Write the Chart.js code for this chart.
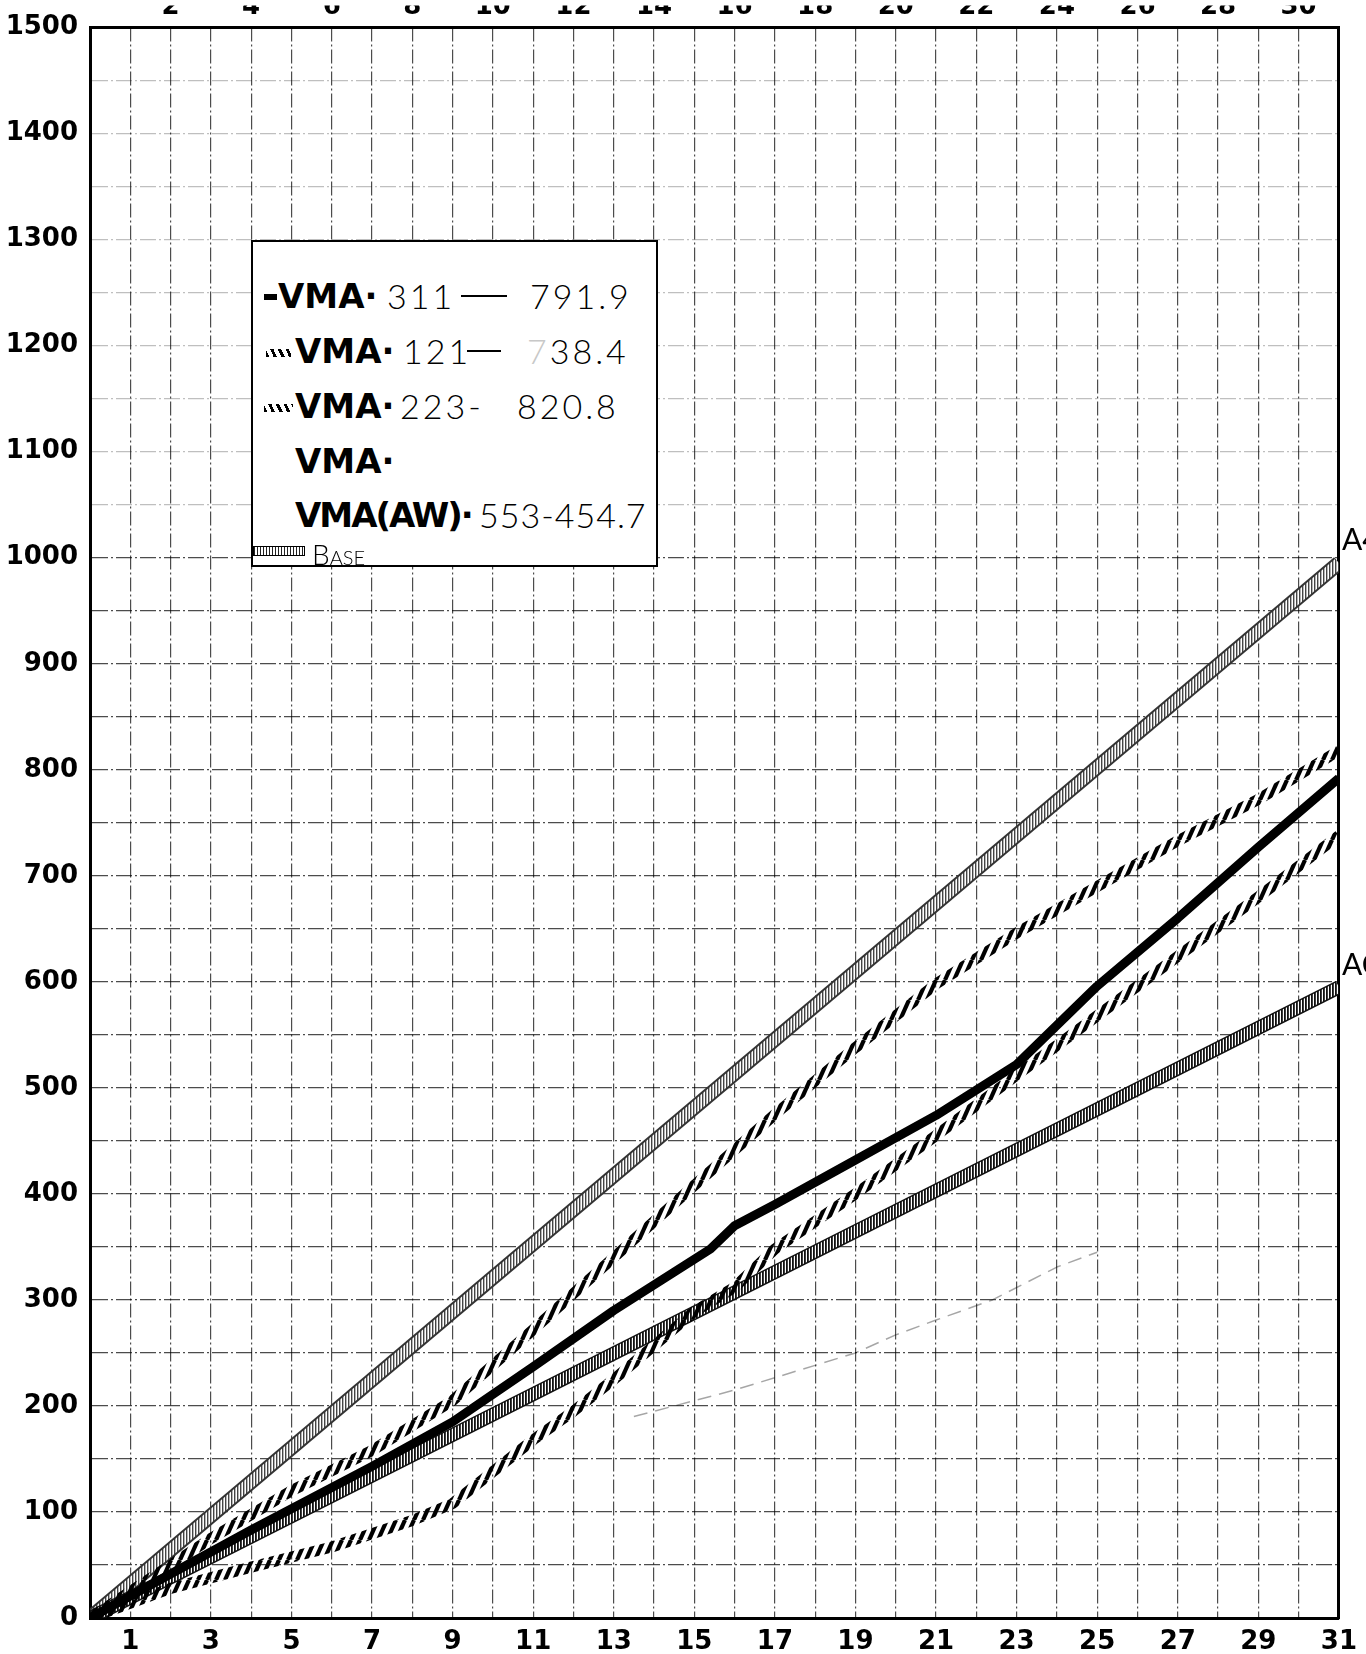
<!DOCTYPE html>
<html>
<head>
<meta charset="utf-8">
<title>VMA cumulative chart</title>
<script src="https://cdn.jsdelivr.net/npm/chart.js@4.4.1/dist/chart.umd.min.js"></script>
<style>
  html, body { margin: 0; padding: 0; background: #fff; }
  #wrap { position: relative; width: 1366px; height: 1654px; overflow: hidden; }
  #chart { position: absolute; left: 0; top: 0; }
  .key { position: absolute; left: 251px; top: 240px; width: 403px; height: 323px;
         border: 2px solid #000; background: #fff; }
  .row { position: absolute; left: 0; width: 100%; height: 40px; }
  .row span { position: absolute; top: 0; line-height: 40px; white-space: nowrap; color: #000; }
  .vma { font: bold 34px "DejaVu Sans", sans-serif; }
  .tight { letter-spacing: -2px; }
  .hand { font: 300 34px Lato, "DejaVu Sans", sans-serif; letter-spacing: 3px; }
  .faint { color: #c8c8c8 !important; }
  .dash { height: 2px !important; top: 19px !important; background: #000; }
  .bar { height: 6px !important; top: 18px !important; background: #000; }
  .rope { height: 8px !important; top: 18px !important;
          background: repeating-linear-gradient(65deg, #000 0 3px, transparent 3px 7px); }
  .base { height: 8px !important; top: 12px !important; border: 1px solid #000;
          background: repeating-linear-gradient(90deg, #222 0 1.5px, #fff 1.5px 3px); }
  .small { font: 300 28px Lato, "DejaVu Sans", sans-serif; font-variant: small-caps; }
</style>
</head>
<body>
<div id="wrap">
  <canvas id="chart" width="1366" height="1654"></canvas>
  <div class="key">
    <div class="row" style="top:34px">
      <span class="bar" style="left:11px;width:13px"></span>
      <span class="vma" style="left:25px">VMA·</span>
      <span class="hand" style="left:134px">311</span>
      <span class="dash" style="left:208px;width:46px"></span>
      <span class="hand" style="left:277px">791.9</span>
    </div>
    <div class="row" style="top:89px">
      <span class="rope" style="left:13px;width:25px"></span>
      <span class="vma" style="left:42px">VMA·</span>
      <span class="hand" style="left:150px">121</span>
      <span class="dash" style="left:214px;width:34px"></span>
      <span class="hand" style="left:274px"><span class="faint" style="position:static">7</span>38.4</span>
    </div>
    <div class="row" style="top:144px">
      <span class="rope" style="left:11px;width:29px"></span>
      <span class="vma" style="left:42px">VMA·</span>
      <span class="hand" style="left:147px">223-</span>
      <span class="hand" style="left:264px">820.8</span>
    </div>
    <div class="row" style="top:199px">
      <span class="vma" style="left:42px">VMA·</span>
    </div>
    <div class="row" style="top:253px">
      <span class="vma tight" style="left:42px">VMA(AW)·</span>
      <span class="hand" style="left:226px;letter-spacing:1px">553-454.7</span>
    </div>
    <div class="row" style="top:292px">
      <span class="base" style="left:0px;width:50px"></span>
      <span class="small" style="left:59px">Base</span>
    </div>
  </div>
</div>
<script>
// days of the month on x, cumulative total on y
const baseHighDays = [0, 31];
const baseHighVals = [0, 995];
const baseLowDays = [0, 31];
const baseLowVals = [0, 595];

const vma311Days = [0, 4, 7, 9, 11, 13, 15.4, 16, 17, 19, 21, 23, 25, 27, 29, 31];
const vma311Vals = [0, 83, 143, 185, 237, 290, 348, 370, 390, 432, 474, 522, 596, 660, 727, 792];

const vma223Days = [0, 3, 5, 7, 9, 11, 13, 15, 17, 19, 21, 23, 25, 27, 29, 31];
const vma223Vals = [0, 75, 120, 158, 205, 272, 340, 408, 475, 538, 598, 646, 690, 733, 772, 818];

const vma121Days = [0, 2, 4, 6, 8, 9, 11, 12, 13, 15, 16, 17, 19, 21, 23, 25, 27, 29, 31];
const vma121Vals = [0, 28, 48, 67, 92, 108, 168, 195, 225, 289, 312, 348, 400, 455, 512, 568, 624, 680, 738];

const awDays = [13.5, 16, 19, 20, 21, 22.4, 24, 25];
const awVals = [190, 215, 250, 267, 281, 300, 331, 345];

const yTicksEvery = 100;
const edgeNotes = [
    { text: 'A4', value: 1000 },
    { text: 'AC', value: 600 }
];

function series(days, vals) {
    return days.map((d, i) => ({ x: d, y: vals[i] }));
}

// slanted strokes, used for the rope style lines
function ropePattern() {
    const c = document.createElement('canvas');
    c.width = 9; c.height = 20;
    const g = c.getContext('2d');
    g.strokeStyle = '#000';
    g.lineWidth = 4.2;
    for (let k = -1; k <= 1; k++) {
        g.beginPath();
        g.moveTo(k * 9, 20);
        g.lineTo(k * 9 + 9, 0);
        g.stroke();
    }
    return g.createPattern(c, 'repeat');
}

// vertical hatch, used for the base lines
function stripePattern(ink, paper, w, lw) {
    const c = document.createElement('canvas');
    c.width = w; c.height = 4;
    const g = c.getContext('2d');
    g.fillStyle = paper;
    g.fillRect(0, 0, w, 4);
    g.fillStyle = ink;
    g.fillRect(0, 0, lw, 4);
    return g.createPattern(c, 'repeat');
}

const notesPlugin = {
    id: 'notes',
    afterDraw(chart) {
        const ctx = chart.ctx;
        const y = chart.scales.y;
        ctx.save();
        ctx.fillStyle = '#000';
        ctx.font = '30px Lato, "DejaVu Sans", sans-serif';
        ctx.textAlign = 'left';
        ctx.textBaseline = 'bottom';
        edgeNotes.forEach(n => {
            ctx.fillText(n.text, chart.chartArea.right + 3, y.getPixelForValue(n.value) - 2);
        });
        ctx.restore();
    }
};

const tickFont = { family: 'DejaVu Sans', weight: 'bold', size: 26 };
const rope = ropePattern();

new Chart(document.getElementById('chart'), {
    type: 'line',
    data: {
        datasets: [
            { label: 'BASE', data: series(baseHighDays, baseHighVals), borderColor: '#333', borderWidth: 15, order: 9 },
            { label: 'BASE', data: series(baseHighDays, baseHighVals), borderColor: stripePattern('#444', '#fff', 3, 1.4), borderWidth: 11, order: 8 },
            { label: 'BASE', data: series(baseLowDays, baseLowVals), borderColor: '#111', borderWidth: 14, order: 7 },
            { label: 'BASE', data: series(baseLowDays, baseLowVals), borderColor: stripePattern('#111', '#fff', 3, 1.8), borderWidth: 11, order: 6 },
            { label: 'VMA(AW)', data: series(awDays, awVals), borderColor: 'rgba(0,0,0,0.35)', borderWidth: 1.5, borderDash: [14, 8], order: 5 },
            { label: 'VMA-121', data: series(vma121Days, vma121Vals), borderColor: rope, borderWidth: 11, order: 4 },
            { label: 'VMA-223', data: series(vma223Days, vma223Vals), borderColor: rope, borderWidth: 11, order: 3 },
            { label: 'VMA-311', data: series(vma311Days, vma311Vals), borderColor: '#000', borderWidth: 9, order: 1 }
        ]
    },
    options: {
        responsive: false,
        animation: false,
        layout: { padding: 0 },
        elements: {
            point: { radius: 0 },
            line: { tension: 0, borderCapStyle: 'butt', borderJoinStyle: 'round', fill: false }
        },
        plugins: { legend: { display: false }, tooltip: { enabled: false } },
        scales: {
            x: {
                type: 'linear', position: 'bottom', min: 0, max: 31,
                afterFit: s => { s.height = 36; },
                ticks: {
                    stepSize: 1, autoSkip: false, maxRotation: 0, padding: 9,
                    font: tickFont, color: '#000',
                    callback: v => (v % 2 === 1 ? v : '')
                },
                grid: { drawTicks: false, color: 'rgba(0,0,0,0.7)', lineWidth: 1.2 },
                border: { display: true, color: '#000', width: 3, dash: [14, 3, 2, 3] }
            },
            x2: {
                type: 'linear', position: 'top', min: 0, max: 31,
                afterFit: s => { s.height = 22; },
                ticks: {
                    stepSize: 1, autoSkip: false, maxRotation: 0, padding: 5,
                    font: tickFont, color: '#000',
                    callback: v => (v % 2 === 0 && v > 0 ? v : '')
                },
                grid: { display: false, drawTicks: false },
                border: { display: true, color: '#000', width: 3 }
            },
            y: {
                type: 'linear', position: 'left', min: 0, max: 1500,
                afterFit: s => { s.width = 90; },
                ticks: {
                    stepSize: 50, autoSkip: false, padding: 12,
                    font: tickFont, color: '#000',
                    callback: v => (v % yTicksEvery === 0 ? v : '')
                },
                grid: {
                    drawTicks: false, lineWidth: 1.2,
                    color: c => (c.tick && c.tick.value > 1000 ? 'rgba(0,0,0,0.25)' : 'rgba(0,0,0,0.7)')
                },
                border: { display: true, color: '#000', width: 3, dash: [16, 3, 2, 3] }
            },
            yR: {
                type: 'linear', position: 'right', min: 0, max: 1500,
                afterFit: s => { s.width = 26; },
                ticks: { display: false },
                grid: { display: false, drawTicks: false },
                border: { display: true, color: '#000', width: 3 }
            }
        }
    },
    plugins: [notesPlugin]
});
</script>
</body>
</html>
